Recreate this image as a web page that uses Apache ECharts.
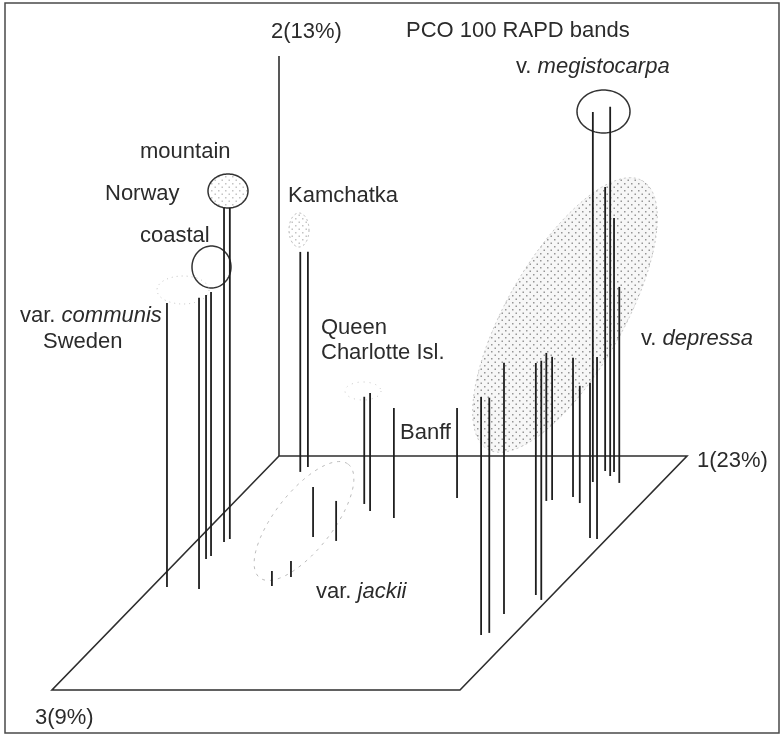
<!DOCTYPE html>
<html>
<head>
<meta charset="utf-8">
<style>
  html, body { margin: 0; padding: 0; background: #fff; }
  #main { width: 783px; height: 734px; }
</style>
</head>
<body>
<div id="main"></div>
<script src="https://cdn.jsdelivr.net/npm/echarts@6/dist/echarts.min.js"></script>
<script>
// PCO of 100 RAPD bands: each sample is a point (axis1, axis2, axis3), drawn as a
// vertical drop line from its position on the axis1/axis3 floor up to its axis2 score.
// Scores are scaled so the floor spans 0..1 on axes 1 and 3, and axis 2 spans 0..1.

const sampleGroup = [
  'communis', 'coastal', 'coastal', 'coastal', 'mountain', 'mountain',
  'Kamchatka', 'Kamchatka',
  'QueenCharlotte', 'QueenCharlotte',
  'Banff',
  'depressa', 'depressa', 'depressa', 'depressa', 'depressa', 'depressa',
  'depressa', 'depressa', 'depressa', 'depressa', 'depressa', 'depressa',
  'megistocarpa', 'depressa', 'megistocarpa', 'depressa', 'depressa',
  'jackii', 'jackii', 'jackii', 'jackii'
];
const axis1Score = [
  0.037, 0.120, 0.066, 0.071, 0.070, 0.077,
  0.090, 0.097,
  0.323, 0.354,
  0.429,
  0.536, 0.921, 0.936, 0.927, 0.960, 0.985,
  0.762, 0.774, 0.818, 0.849, 0.957, 0.977,
  0.831, 0.835, 0.859, 0.859, 0.898,
  0.276, 0.342, 0.317, 0.292
];
const axis2Score = [
  0.710, 0.728, 0.660, 0.660, 0.835, 0.828,
  0.550, 0.538,
  0.268, 0.295,
  0.275,
  0.225, 0.595, 0.588, 0.628, 0.580, 0.598,
  0.370, 0.358, 0.348, 0.293, 0.388, 0.455,
  0.925, 0.710, 0.923, 0.635, 0.490,
  0.125, 0.100, 0.040, 0.038
];
const axis3Score = [
  0.560, 0.568, 0.440, 0.427, 0.368, 0.355,
  0.068, 0.047,
  0.205, 0.235,
  0.265,
  0.179, 0.765, 0.756, 0.675, 0.594, 0.615,
  0.192, 0.188, 0.175, 0.201, 0.350, 0.355,
  0.111, 0.064, 0.085, 0.068, 0.115,
  0.346, 0.363, 0.517, 0.556
];
const axisTitles = ['1(23%)', '2(13%)', '3(9%)'];
const chartTitle = 'PCO 100 RAPD bands';

// ---- oblique projection of (axis1, axis2, axis3) onto the drawing plane ----
const ORIGIN = [279, 456];
const AX1 = [408, 0];      // floor, to the right
const AX3 = [-227, 234];   // floor, towards the viewer
const AX2 = 400;           // height
function project(a1, a2, a3) {
  return [ORIGIN[0] + AX1[0] * a1 + AX3[0] * a3,
          ORIGIN[1] + AX1[1] * a1 + AX3[1] * a3 - AX2 * a2];
}

// stipple fill used to shade the groups
function stipple(dotColor, bgColor) {
  const n = 7;
  const c = document.createElement('canvas');
  c.width = n; c.height = n;
  const g = c.getContext('2d');
  if (bgColor) { g.fillStyle = bgColor; g.fillRect(0, 0, n, n); }
  g.fillStyle = dotColor;
  g.fillRect(1, 1, 1.5, 1.5);
  g.fillRect(4.5, 4.5, 1.5, 1.5);
  return { image: c, repeat: 'repeat' };
}
const stippleDark = stipple('#969696', '#f7f7f7');
const stippleLight = stipple('#c4c4c4', null);

// group outlines on the drawing plane (centre, radii, tilt in degrees)
const groupOutlines = [
  { cx: 565, cy: 315, rx: 155, ry: 58, rot: 60, fill: stippleDark, stroke: '#c8c8c8', dash: [2, 3], width: 1 },
  { cx: 228, cy: 191, rx: 20, ry: 17, rot: 0, fill: stippleLight, stroke: '#333', dash: null, width: 1.5 },
  { cx: 211.5, cy: 267, rx: 19.5, ry: 21, rot: 0, fill: null, stroke: '#333', dash: null, width: 1.5 },
  { cx: 603.5, cy: 111.5, rx: 26.5, ry: 21.5, rot: 0, fill: null, stroke: '#333', dash: null, width: 1.5 },
  { cx: 299, cy: 230, rx: 10, ry: 17, rot: 0, fill: stippleLight, stroke: '#b5b5b5', dash: [2, 3], width: 1 },
  { cx: 183, cy: 290, rx: 26, ry: 14, rot: 0, fill: null, stroke: '#c4c4c4', dash: [1, 4], width: 1 },
  { cx: 363, cy: 391, rx: 18, ry: 9, rot: 0, fill: null, stroke: '#c8c8c8', dash: [1, 5], width: 1 },
  { cx: 304, cy: 521, rx: 72, ry: 29, rot: 52, fill: null, stroke: '#bcbcbc', dash: [3, 5], width: 1 }
];

function ellipsePoints(e, api) {
  const pts = [];
  const t = -e.rot * Math.PI / 180;
  const ct = Math.cos(t), st = Math.sin(t);
  for (let i = 0; i < 96; i++) {
    const a = i / 96 * Math.PI * 2;
    const x = e.rx * Math.cos(a), y = e.ry * Math.sin(a);
    pts.push(api.coord([e.cx + x * ct - y * st, e.cy + x * st + y * ct]));
  }
  return pts;
}

const FONT = "'Liberation Sans', Arial, Helvetica, sans-serif";
const TEXT_COLOR = '#2b2b2b';
const FS = 22;

function label(x, baseline, text, rich) {
  return {
    type: 'text', x: x, y: baseline - FS * 0.35,
    style: {
      text: text, fill: TEXT_COLOR, font: FS + 'px ' + FONT,
      fontSize: FS, fontFamily: FONT,
      verticalAlign: 'middle', textVerticalAlign: 'middle',
      rich: rich || undefined
    },
    z: 20
  };
}
const italicRich = {
  n: { fontSize: FS, fontFamily: FONT, color: TEXT_COLOR },
  i: { fontSize: FS, fontFamily: FONT, fontStyle: 'italic', color: TEXT_COLOR }
};

const chart = echarts.init(document.getElementById('main'), null, { renderer: 'canvas' });

const dropData = axis1Score.map((v, i) => [v, axis2Score[i], axis3Score[i], sampleGroup[i]]);

chart.setOption({
  animation: false,
  backgroundColor: '#ffffff',
  grid: { left: 0, right: 0, top: 0, bottom: 0 },
  xAxis: { type: 'value', min: 0, max: 783, show: false },
  yAxis: { type: 'value', min: 0, max: 734, inverse: true, show: false },
  graphic: [
    { type: 'rect', shape: { x: 5, y: 3, width: 774, height: 730 },
      style: { fill: 'none', stroke: '#4a4a4a', lineWidth: 1.5 }, z: 30 },
    label(406, 38.3, chartTitle),
    label(271, 40, axisTitles[1]),
    label(697, 469, axisTitles[0]),
    label(35, 725.7, axisTitles[2]),
    label(516, 75, '{n|v. }{i|megistocarpa}', italicRich),
    label(140, 160, 'mountain'),
    label(105, 201.7, 'Norway'),
    label(140, 243.3, 'coastal'),
    label(288, 203.3, 'Kamchatka'),
    label(20, 324, '{n|var. }{i|communis}', italicRich),
    label(43, 350, 'Sweden'),
    label(321, 335.7, 'Queen'),
    label(321, 361, 'Charlotte Isl.'),
    label(400, 441, 'Banff'),
    label(641, 346.7, '{n|v. }{i|depressa}', italicRich),
    label(316, 600, '{n|var. }{i|jackii}', italicRich)
  ],
  series: [
    {
      // shaded / outlined sample groups
      type: 'custom',
      z: 1,
      silent: true,
      data: groupOutlines.map(e => [e.cx, e.cy]),
      renderItem: function (params, api) {
        const e = groupOutlines[params.dataIndex];
        return {
          type: 'polygon',
          shape: { points: ellipsePoints(e, api) },
          style: {
            fill: e.fill || 'none',
            stroke: e.stroke,
            lineWidth: e.width,
            lineDash: e.dash || null
          }
        };
      }
    },
    {
      // floor of the axis1/axis3 plane and the vertical axis 2
      type: 'custom',
      z: 3,
      silent: true,
      data: [[0, 0]],
      renderItem: function (params, api) {
        const c = [project(0, 0, 0), project(1, 0, 0), project(1, 0, 1), project(0, 0, 1)]
          .map(p => api.coord(p));
        const top = api.coord(project(0, 1, 0));
        return {
          type: 'group',
          children: [
            { type: 'polygon', shape: { points: c },
              style: { fill: 'none', stroke: '#2e2e2e', lineWidth: 1.6 } },
            { type: 'line', shape: { x1: c[0][0], y1: c[0][1], x2: top[0], y2: top[1] },
              style: { stroke: '#2e2e2e', lineWidth: 1.6 } }
          ]
        };
      }
    },
    {
      // samples: drop line from the floor up to the axis-2 score
      type: 'custom',
      z: 5,
      silent: true,
      dimensions: ['axis1', 'axis2', 'axis3', 'group'],
      encode: { x: 0, y: 1 },
      data: dropData,
      renderItem: function (params, api) {
        const a1 = api.value(0), a2 = api.value(1), a3 = api.value(2);
        const base = api.coord(project(a1, 0, a3));
        const tip = api.coord(project(a1, a2, a3));
        return {
          type: 'line',
          shape: { x1: base[0], y1: base[1], x2: tip[0], y2: tip[1] },
          style: { stroke: '#1e1e1e', lineWidth: 1.8 }
        };
      }
    }
  ]
});
</script>
</body>
</html>
